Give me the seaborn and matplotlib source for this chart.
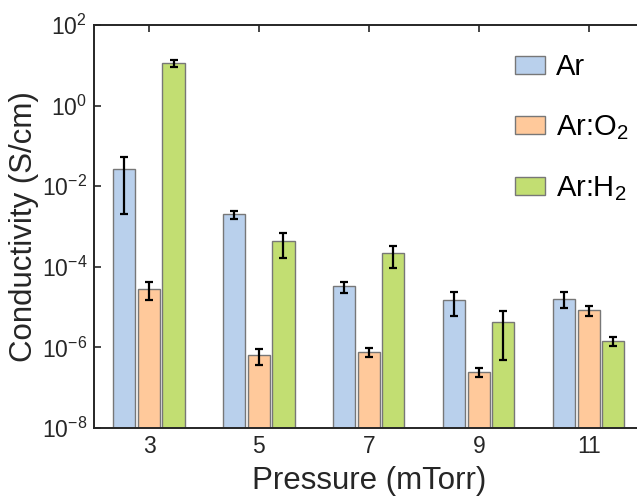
import numpy as np
import pandas as pd
import matplotlib
matplotlib.use("Agg")
import matplotlib.pyplot as plt
import seaborn as sns

# ---- data ----
pressures = ["3", "5", "7", "9", "11"]
series = ["Ar", "Ar:O$_2$", "Ar:H$_2$"]
ar_vals = [2.7e-2, 2.0e-3, 3.3e-5, 1.5e-5, 1.63e-5]
ar_err = [2.5e-2, 5.0e-4, 1.0e-5, 9.0e-6, 7.0e-6]
o2_vals = [2.8e-5, 6.5e-7, 7.8e-7, 2.5e-7, 8.3e-6]
o2_err = [1.3e-5, 2.8e-7, 2.0e-7, 6.5e-8, 2.4e-6]
h2_vals = [11.2, 4.4e-4, 2.16e-4, 4.3e-6, 1.45e-6]
h2_err = [2.3, 2.7e-4, 1.2e-4, 3.8e-6, 3.4e-7]
colors = ["#B9D0EC", "#FFC99B", "#C2DE72"]

vals = [ar_vals, o2_vals, h2_vals]
errs = [ar_err, o2_err, h2_err]
rows = []
for s, v, e in zip(series, vals, errs):
    for p, vv, ee in zip(pressures, v, e):
        rows.append({"Pressure": p, "Series": s, "Value": vv, "Err": ee})
df = pd.DataFrame(rows)

sns.set_style("ticks")
plt.rcParams["font.family"] = ["Liberation Sans", "DejaVu Sans"]
plt.rcParams["mathtext.fontset"] = "custom"
plt.rcParams["mathtext.rm"] = "Liberation Sans"
plt.rcParams["mathtext.it"] = "Liberation Sans"
plt.rcParams["mathtext.default"] = "regular"

txt = "#262626"
fig = plt.figure(figsize=(6.37, 4.96), dpi=100)
ax = fig.add_axes([0.1476, 0.137, 0.863, 0.8125])

sns.barplot(data=df, x="Pressure", y="Value", hue="Series", order=pressures,
            hue_order=series, palette=colors, width=0.67, gap=0.1,
            errorbar=None, edgecolor="#777777", linewidth=1.0, ax=ax,
            saturation=1)
ax.set_yscale("log")

# error bars at the bar centres
for cont, s in zip(ax.containers, series):
    sub = df[df["Series"] == s].set_index("Pressure").loc[pressures]
    xs = [b.get_x() + b.get_width() / 2 for b in cont]
    ax.errorbar(xs, sub["Value"].values, yerr=sub["Err"].values, fmt="none",
                ecolor="black", elinewidth=1.6, capsize=3, capthick=1.6, zorder=5)

ax.set_ylim(1e-8, 1e2)
ax.set_xlim(-0.5, 4.5)
ax.set_yticks([1e-8, 1e-6, 1e-4, 1e-2, 1e0, 1e2])
ax.set_yticklabels([r"$10^{-8}$", r"$10^{-6}$", r"$10^{-4}$", r"$10^{-2}$",
                    r"$10^{0}$", r"$10^{2}$"])
ax.yaxis.set_minor_locator(matplotlib.ticker.NullLocator())
ax.tick_params(axis="both", which="both", direction="in", length=5, width=1.2,
               top=True, right=True, labelsize=16.5, colors=txt, pad=5)
for sp in ax.spines.values():
    sp.set_linewidth(1.4)
    sp.set_color(txt)

ax.set_xlabel("Pressure (mTorr)", fontsize=22.5, color=txt, labelpad=5.5)
ax.set_ylabel("Conductivity (S/cm)", fontsize=22.5, color=txt, labelpad=2)

leg = ax.legend(loc="upper left", bbox_to_anchor=(0.765, 0.93), frameon=False,
                fontsize=21, handlelength=1.03, handleheight=0.6,
                labelspacing=1.1, handletextpad=0.4, borderpad=0,
                borderaxespad=0)
for h in leg.legend_handles:
    h.set_edgecolor("#777777")
    h.set_linewidth(1.0)
for t in leg.get_texts():
    t.set_color("black")

fig.savefig("out.png", dpi=100)
